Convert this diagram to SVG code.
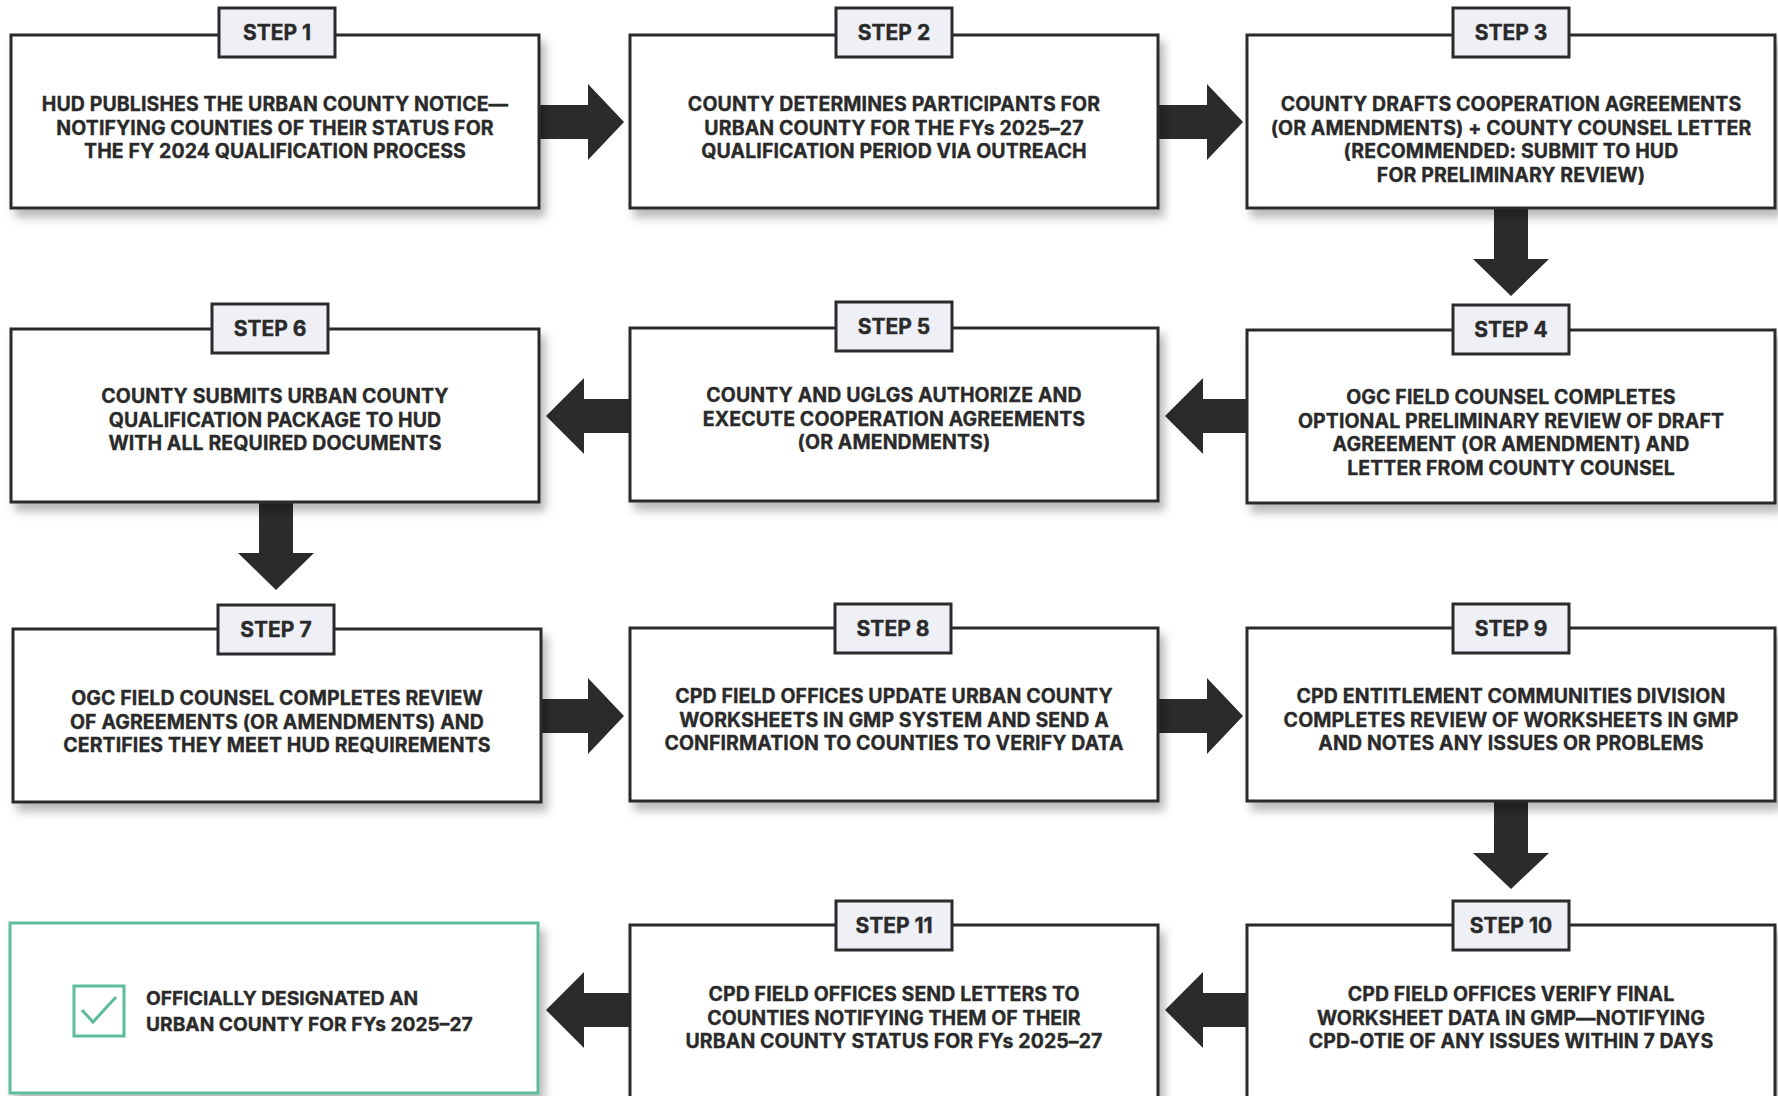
<svg xmlns="http://www.w3.org/2000/svg" width="1778" height="1096" viewBox="0 0 1778 1096">
<style>
.box{fill:#fff;stroke:#2b2b2b;stroke-width:3}
.final{fill:#fff;stroke:#5cbc9c;stroke-width:3}
.lbl{fill:#eef0f5;stroke:#2b2b2b;stroke-width:3}
.lt{font-family:Inter,"Liberation Sans",sans-serif;font-weight:700;font-size:21px;fill:#2a2a2a;stroke:#2a2a2a;stroke-width:0.4;text-anchor:middle}
.t{font-family:Inter,"Liberation Sans",sans-serif;font-weight:700;font-size:19.5px;fill:#2a2a2a;stroke:#2a2a2a;stroke-width:0.35;text-anchor:middle;letter-spacing:0.1px}
.ft{font-family:Inter,"Liberation Sans",sans-serif;font-weight:700;font-size:19.2px;fill:#2a2a2a;stroke:#2a2a2a;stroke-width:0.35;letter-spacing:0px}
.arr{fill:#2b2b2b}
</style>
<defs>
<filter id="sh" x="-5%" y="-10%" width="115%" height="130%">
<feDropShadow dx="5" dy="8" stdDeviation="5" flood-color="#000" flood-opacity="0.28"/>
</filter>
</defs>
<rect width="1778" height="1096" fill="#fff"/>

<g id="connectors">
<path class="arr" d="M539 105H588V84L624 122L588 160V139H539Z"/>
<path class="arr" d="M1158 105H1207V84L1243 122L1207 160V139H1158Z"/>
<path class="arr" d="M1494 209V259H1473L1511 296L1549 259H1528V209Z"/>
<path class="arr" d="M1247 399H1203V378L1165 416L1203 454V433H1247Z"/>
<path class="arr" d="M630 399H584V378L546 416L584 454V433H630Z"/>
<path class="arr" d="M259 502V553H238L276 590L314 553H293V502Z"/>
<path class="arr" d="M541 699H588V678L624 716L588 754V733H541Z"/>
<path class="arr" d="M1158 699H1207V678L1243 716L1207 754V733H1158Z"/>
<path class="arr" d="M1494 802V853H1473L1511 889L1549 853H1528V802Z"/>
<path class="arr" d="M1247 993H1203V972L1165 1010L1203 1048V1027H1247Z"/>
<path class="arr" d="M630 993H584V972L546 1010L584 1048V1027H630Z"/>
</g>

<g id="step1">
<rect class="box" x="11" y="35" width="528" height="173" filter="url(#sh)"/>
<rect class="lbl" x="219" y="8" width="116" height="49"/>
<text class="lt" x="277" y="40">STEP 1</text>
<text class="t" x="275" y="111">HUD PUBLISHES THE URBAN COUNTY NOTICE—</text>
<text class="t" x="275" y="134.5">NOTIFYING COUNTIES OF THEIR STATUS FOR</text>
<text class="t" x="275" y="158">THE FY 2024 QUALIFICATION PROCESS</text>
</g>

<g id="step2">
<rect class="box" x="630" y="35" width="528" height="173" filter="url(#sh)"/>
<rect class="lbl" x="836" y="8" width="116" height="49"/>
<text class="lt" x="894" y="40">STEP 2</text>
<text class="t" x="894" y="111">COUNTY DETERMINES PARTICIPANTS FOR</text>
<text class="t" x="894" y="134.5">URBAN COUNTY FOR THE FYs 2025–27</text>
<text class="t" x="894" y="158">QUALIFICATION PERIOD VIA OUTREACH</text>
</g>

<g id="step3">
<rect class="box" x="1247" y="35" width="528" height="173" filter="url(#sh)"/>
<rect class="lbl" x="1453" y="8" width="116" height="49"/>
<text class="lt" x="1511" y="40">STEP 3</text>
<text class="t" x="1511" y="111">COUNTY DRAFTS COOPERATION AGREEMENTS</text>
<text class="t" x="1511" y="134.5">(OR AMENDMENTS) + COUNTY COUNSEL LETTER</text>
<text class="t" x="1511" y="158">(RECOMMENDED: SUBMIT TO HUD</text>
<text class="t" x="1511" y="182">FOR PRELIMINARY REVIEW)</text>
</g>

<g id="step4">
<rect class="box" x="1247" y="330" width="528" height="173" filter="url(#sh)"/>
<rect class="lbl" x="1453" y="305" width="116" height="49"/>
<text class="lt" x="1511" y="337">STEP 4</text>
<text class="t" x="1511" y="404">OGC FIELD COUNSEL COMPLETES</text>
<text class="t" x="1511" y="427.5">OPTIONAL PRELIMINARY REVIEW OF DRAFT</text>
<text class="t" x="1511" y="451">AGREEMENT (OR AMENDMENT) AND</text>
<text class="t" x="1511" y="475">LETTER FROM COUNTY COUNSEL</text>
</g>

<g id="step5">
<rect class="box" x="630" y="328" width="528" height="173" filter="url(#sh)"/>
<rect class="lbl" x="836" y="302" width="116" height="49"/>
<text class="lt" x="894" y="334">STEP 5</text>
<text class="t" x="894" y="402">COUNTY AND UGLGS AUTHORIZE AND</text>
<text class="t" x="894" y="425.5">EXECUTE COOPERATION AGREEMENTS</text>
<text class="t" x="894" y="449">(OR AMENDMENTS)</text>
</g>

<g id="step6">
<rect class="box" x="11" y="329" width="528" height="173" filter="url(#sh)"/>
<rect class="lbl" x="212" y="304" width="116" height="49"/>
<text class="lt" x="270" y="336">STEP 6</text>
<text class="t" x="275" y="403">COUNTY SUBMITS URBAN COUNTY</text>
<text class="t" x="275" y="426.5">QUALIFICATION PACKAGE TO HUD</text>
<text class="t" x="275" y="450">WITH ALL REQUIRED DOCUMENTS</text>
</g>

<g id="step7">
<rect class="box" x="13" y="629" width="528" height="173" filter="url(#sh)"/>
<rect class="lbl" x="218" y="605" width="116" height="49"/>
<text class="lt" x="276" y="637">STEP 7</text>
<text class="t" x="277" y="705">OGC FIELD COUNSEL COMPLETES REVIEW</text>
<text class="t" x="277" y="728.5">OF AGREEMENTS (OR AMENDMENTS) AND</text>
<text class="t" x="277" y="752">CERTIFIES THEY MEET HUD REQUIREMENTS</text>
</g>

<g id="step8">
<rect class="box" x="630" y="628" width="528" height="173" filter="url(#sh)"/>
<rect class="lbl" x="835" y="604" width="116" height="49"/>
<text class="lt" x="893" y="636">STEP 8</text>
<text class="t" x="894" y="703">CPD FIELD OFFICES UPDATE URBAN COUNTY</text>
<text class="t" x="894" y="726.5">WORKSHEETS IN GMP SYSTEM AND SEND A</text>
<text class="t" x="894" y="750">CONFIRMATION TO COUNTIES TO VERIFY DATA</text>
</g>

<g id="step9">
<rect class="box" x="1247" y="628" width="528" height="173" filter="url(#sh)"/>
<rect class="lbl" x="1453" y="604" width="116" height="49"/>
<text class="lt" x="1511" y="636">STEP 9</text>
<text class="t" x="1511" y="703">CPD ENTITLEMENT COMMUNITIES DIVISION</text>
<text class="t" x="1511" y="726.5">COMPLETES REVIEW OF WORKSHEETS IN GMP</text>
<text class="t" x="1511" y="750">AND NOTES ANY ISSUES OR PROBLEMS</text>
</g>

<g id="step10">
<rect class="box" x="1247" y="925" width="528" height="190" filter="url(#sh)"/>
<rect class="lbl" x="1453" y="901" width="116" height="49"/>
<text class="lt" x="1511" y="933">STEP 10</text>
<text class="t" x="1511" y="1001">CPD FIELD OFFICES VERIFY FINAL</text>
<text class="t" x="1511" y="1024.5">WORKSHEET DATA IN GMP—NOTIFYING</text>
<text class="t" x="1511" y="1048">CPD-OTIE OF ANY ISSUES WITHIN 7 DAYS</text>
</g>

<g id="step11">
<rect class="box" x="630" y="925" width="528" height="190" filter="url(#sh)"/>
<rect class="lbl" x="836" y="901" width="116" height="49"/>
<text class="lt" x="894" y="933">STEP 11</text>
<text class="t" x="894" y="1001">CPD FIELD OFFICES SEND LETTERS TO</text>
<text class="t" x="894" y="1024.5">COUNTIES NOTIFYING THEM OF THEIR</text>
<text class="t" x="894" y="1048">URBAN COUNTY STATUS FOR FYs 2025–27</text>
</g>

<g id="final">
<rect class="final" x="10" y="923" width="528" height="170" filter="url(#sh)"/>
<rect x="74" y="986" width="50" height="50" fill="none" stroke="#5cbc9c" stroke-width="3"/>
<polyline points="82,1010 93,1022 116,997" fill="none" stroke="#5cbc9c" stroke-width="3"/>
<text class="ft" x="146" y="1005">OFFICIALLY DESIGNATED AN</text>
<text class="ft" x="146" y="1031">URBAN COUNTY FOR FYs 2025–27</text>
</g>
</svg>
